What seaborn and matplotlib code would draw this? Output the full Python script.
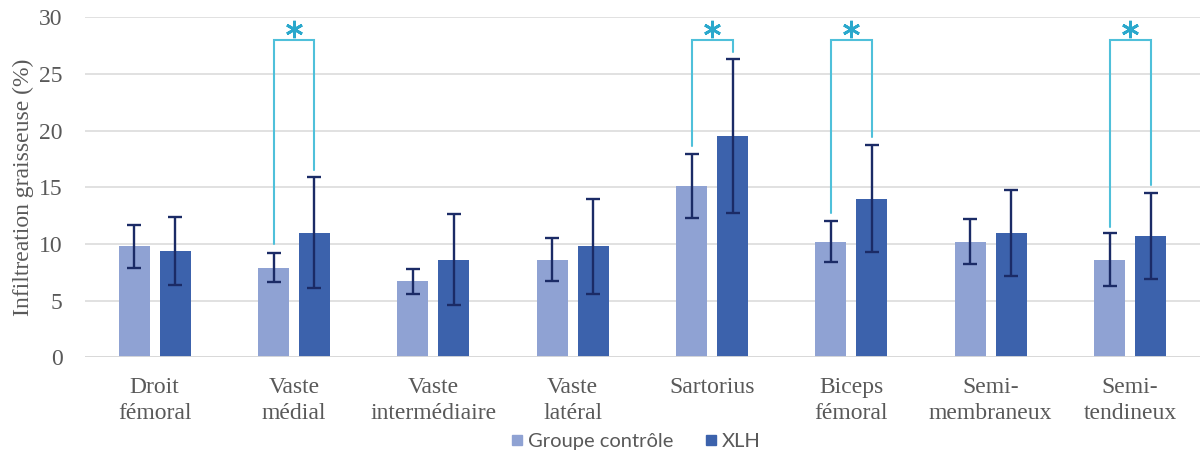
import numpy as np
import pandas as pd
import matplotlib
matplotlib.use("Agg")
import matplotlib.pyplot as plt
from matplotlib.lines import Line2D
import seaborn as sns

# Muscles and mean fat infiltration (%) with standard deviations
muscles = ["Droit\nfémoral", "Vaste\nmédial", "Vaste\nintermédiaire", "Vaste\nlatéral",
           "Sartorius", "Biceps\nfémoral", "Semi-\nmembraneux", "Semi-\ntendineux"]
groups = ["Groupe contrôle", "XLH"]
controle_mean = [9.8, 7.9, 6.7, 8.6, 15.1, 10.2, 10.2, 8.6]
controle_sd = [1.9, 1.3, 1.1, 1.9, 2.8, 1.8, 2.0, 2.35]
xlh_mean = [9.4, 11.0, 8.6, 9.8, 19.5, 14.0, 11.0, 10.7]
xlh_sd = [3.0, 4.9, 4.0, 4.2, 6.8, 4.7, 3.8, 3.8]

# Significant differences: muscle index, left leg end, right leg end
sig_index = [1, 4, 5, 7]
sig_left = [10.0, 18.6, 12.7, 11.5]
sig_right = [16.5, 26.9, 19.4, 15.2]
sig_top = 28.0

colors = ["#8FA2D3", "#3C62AC"]
err_color = "#1B2B66"
sig_color = "#4FC0DA"
star_color = "#2AA8CC"
text_gray = "#595959"

df = pd.DataFrame({
    "Muscle": muscles * 2,
    "Groupe": [groups[0]] * len(muscles) + [groups[1]] * len(muscles),
    "Valeur": controle_mean + xlh_mean,
})

sns.set_theme(style="white")
plt.rcParams["font.family"] = ["Liberation Serif", "DejaVu Serif"]

fig = plt.figure(figsize=(12, 4.54), dpi=100)
ax = fig.add_axes([0.0708, 0.213, 0.929, 0.749])

sns.barplot(data=df, x="Muscle", y="Valeur", hue="Groupe", order=muscles,
            hue_order=groups, palette=colors, errorbar=None, width=0.588,
            gap=0.244, saturation=1, linewidth=0, legend=False, ax=ax)

# Error bars centred on the drawn bars
centers = []
for cont, means, sds in zip(ax.containers, [controle_mean, xlh_mean],
                            [controle_sd, xlh_sd]):
    xs = [p.get_x() + p.get_width() / 2 for p in cont.patches]
    centers.append(xs)
    ax.errorbar(xs, means, yerr=sds, fmt="none", ecolor=err_color,
                elinewidth=1.7, capsize=5, capthick=1.7, zorder=4)

# Significance brackets with stars
for i, yl, yr in zip(sig_index, sig_left, sig_right):
    xl, xr = centers[0][i], centers[1][i]
    ax.plot([xl, xl, xr, xr], [yl, sig_top, sig_top, yr], color=sig_color,
            lw=1.5, solid_joinstyle="miter", zorder=5, clip_on=False)
    ax.plot([(xl + xr) / 2], [sig_top + 1.0], marker=(6, 2, 0), ms=12.5,
            mew=2.0, color=star_color, zorder=6, clip_on=False)

ax.set_ylim(0, 30)
ax.set_xlim(-0.5, len(muscles) - 0.5)
ax.set_yticks(np.arange(0, 31, 5))
ax.yaxis.grid(True, color="#D9D9D9", lw=1.1)
ax.set_axisbelow(True)
for s in ax.spines.values():
    s.set_visible(False)
ax.axhline(0, color="#D9D9D9", lw=1.3, zorder=1)

ax.tick_params(axis="both", length=0, labelsize=17, labelcolor=text_gray)
ax.tick_params(axis="y", pad=16)
ax.tick_params(axis="x", pad=14)
for lbl in ax.get_xticklabels():
    lbl.set_linespacing(1.35)
ax.set_xlabel("")
ax.set_ylabel("Infiltreation graisseuse (%)", fontsize=17, color=text_gray, labelpad=4)

handles = [Line2D([], [], marker="s", ls="none", ms=7.5, color=c) for c in colors]
fig.legend(handles, groups, loc="center", bbox_to_anchor=(0.528, 0.028), ncol=2,
           frameon=False, handletextpad=0.05, columnspacing=1.35, handlelength=1.0,
           prop={"family": "Lato", "size": 14.5}, labelcolor=text_gray)

fig.savefig("out.png", dpi=100)
